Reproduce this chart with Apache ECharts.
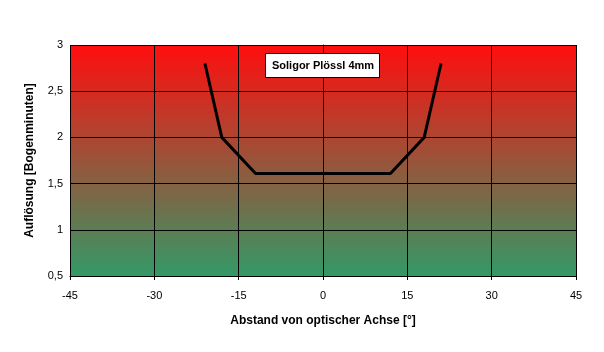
<!DOCTYPE html>
<html><head><meta charset="utf-8">
<script src="https://cdn.jsdelivr.net/npm/echarts@6/dist/echarts.min.js"></script>
<style>html,body{margin:0;padding:0;background:#fff}#c{width:604px;height:352px}</style>
</head><body><div id="c"></div>
<script>
const xValues = [-21, -18, -12, 12, 18, 21];
const yValues = [2.8, 2.0, 1.61, 1.61, 2.0, 2.8];
const xTicks = { min: -45, max: 45, interval: 15 };
const yTicks = { min: 0.5, max: 3, interval: 0.5 };
const seriesName = 'Soligor Plössl 4mm';
const xTitle = 'Abstand von optischer Achse [°]';
const yTitle = 'Auflösung [Bogenminuten]';

const chart = echarts.init(document.getElementById('c'), null, {renderer: 'canvas'});
const font = 'Arial, "Liberation Sans", sans-serif';
chart.setOption({
  animation: false,
  backgroundColor: '#ffffff',
  title: {
    text: seriesName,
    left: 265, top: 53,
    backgroundColor: '#ffffff',
    borderColor: '#000000', borderWidth: 1,
    padding: [7, 6, 7, 7],
    textStyle: {fontFamily: font, fontSize: 11, fontWeight: 'bold', color: '#000', lineHeight: 11}
  },
  grid: {left: 70, right: 28, top: 45, bottom: 76,
    show: true, borderWidth: 0,
    backgroundColor: new echarts.graphic.LinearGradient(0, 0, 0, 1, [
      {offset: 0, color: '#ff0e0e'},
      {offset: 1, color: '#339966'}
    ])},
  xAxis: {
    type: 'value', min: xTicks.min, max: xTicks.max, interval: xTicks.interval,
    name: xTitle, nameLocation: 'middle', nameGap: 39,
    nameTextStyle: {fontFamily: font, fontSize: 12, fontWeight: 'bold', color: '#000'},
    axisLine: {show: true, lineStyle: {color: '#000', width: 1}},
    axisTick: {show: true, length: 4, lineStyle: {color: '#000'}},
    axisLabel: {fontFamily: font, fontSize: 11, color: '#000', margin: 14},
    splitLine: {show: true, lineStyle: {color: '#000', width: 1}}
  },
  yAxis: {
    type: 'value', min: yTicks.min, max: yTicks.max, interval: yTicks.interval,
    name: yTitle, nameLocation: 'middle', nameGap: 34, nameRotate: 90,
    nameTextStyle: {fontFamily: font, fontSize: 12, fontWeight: 'bold', color: '#000'},
    axisLine: {show: true, lineStyle: {color: '#000', width: 1}},
    axisTick: {show: true, length: 4, lineStyle: {color: '#000'}},
    axisLabel: {fontFamily: font, fontSize: 11, color: '#000', margin: 7,
      formatter: v => String(v).replace('.', ',')},
    splitLine: {show: true, lineStyle: {color: '#000', width: 1}}
  },
  series: [{
    type: 'line', name: seriesName,
    data: xValues.map((x, i) => [x, yValues[i]]),
    showSymbol: false, symbol: 'none',
    lineStyle: {color: '#000', width: 3}
  }]
});
</script></body></html>
